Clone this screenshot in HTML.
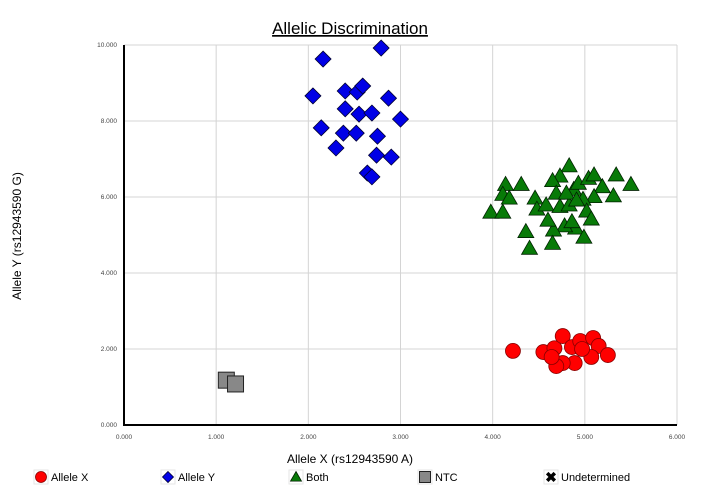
<!DOCTYPE html>
<html><head><meta charset="utf-8"><style>
body{margin:0;background:#fff;font-family:"Liberation Sans",sans-serif}
svg{display:block}
</style></head><body>
<svg width="702" height="501" xmlns="http://www.w3.org/2000/svg">
<text x="350" y="34" font-size="17" text-anchor="middle" text-decoration="underline">Allelic Discrimination</text>
<g id="grid"></g><g id="ticks"></g><g id="marks"></g>
<text x="350" y="463" font-size="12" text-anchor="middle">Allele X (rs12943590 A)</text>
<text transform="translate(21,236) rotate(-90)" font-size="12" text-anchor="middle">Allele Y (rs12943590 G)</text>
<g id="legend"></g>
</svg>
<script>
const xTicks=[0,1,2,3,4,5,6];
const yTicks=[0,2,4,6,8,10];
const alleleX_x=[4.22,4.55,4.67,4.76,4.86,4.95,5.09,5.15,5.25,5.07,4.89,4.76,4.69,4.64,4.97];
const alleleX_y=[1.95,1.92,2.02,2.34,2.05,2.21,2.29,2.08,1.84,1.79,1.63,1.63,1.55,1.79,2.0];
const alleleY_x=[2.05,2.16,2.79,2.40,2.53,2.59,2.87,2.40,2.55,2.69,3.0,2.14,2.38,2.52,2.75,2.30,2.74,2.90,2.64,2.69];
const alleleY_y=[8.66,9.63,9.92,8.79,8.76,8.92,8.6,8.32,8.18,8.21,8.05,7.82,7.68,7.68,7.6,7.29,7.1,7.05,6.63,6.53];
const both_x=[4.83,4.73,4.65,4.31,4.14,4.11,4.18,3.98,4.11,4.46,4.48,4.58,4.69,4.73,4.83,4.88,4.93,5.04,5.10,5.19,5.34,5.50,5.31,5.10,4.98,5.02,5.07,4.90,4.78,4.66,4.60,4.36,4.40,4.65,4.99,4.86,4.80,4.91];
const both_y=[6.82,6.55,6.43,6.33,6.33,6.07,5.97,5.60,5.60,5.97,5.68,5.79,6.10,5.75,5.79,6.20,6.36,6.49,6.58,6.27,6.58,6.33,6.03,6.01,5.94,5.63,5.42,5.18,5.24,5.13,5.39,5.09,4.65,4.78,4.94,5.35,6.10,5.92];
const ntc_x=[1.11,1.21];
const ntc_y=[1.18,1.08];
const X0=124,X1=677,Y0=425,Y1=45;
const sx=v=>X0+(X1-X0)*v/6, sy=v=>Y0-(Y0-Y1)*v/10;
const NS="http://www.w3.org/2000/svg";
function mk(tag,attrs,parent){const e=document.createElementNS(NS,tag);for(const k in attrs)e.setAttribute(k,attrs[k]);parent.appendChild(e);return e;}
const grid=document.getElementById('grid'),ticks=document.getElementById('ticks'),marks=document.getElementById('marks'),legend=document.getElementById('legend');
xTicks.forEach(t=>{if(t>0){const l=mk('line',{x1:sx(t),x2:sx(t),y1:Y1,y2:Y0,stroke:'#d4d4d4'},grid);

}
const tx=mk('text',{x:sx(t),y:439,'font-size':6.5,'text-anchor':'middle',fill:'#444'},ticks);tx.textContent=t.toFixed(3);

});
yTicks.forEach(t=>{if(t>0){const l=mk('line',{x1:X0,x2:X1,y1:sy(t),y2:sy(t),stroke:'#d4d4d4'},grid);

}
const tx=mk('text',{x:117,y:sy(t)+2,'font-size':6.5,'text-anchor':'end',fill:'#444'},ticks);tx.textContent=t.toFixed(3);

});
const ax=mk('path',{d:`M${X0} ${Y1}V${Y0}H${X1}`,stroke:'#000','stroke-width':2,fill:'none'},grid);


function circle(x,y,p,r){return mk('circle',{cx:x,cy:y,r:r||7.5,fill:'#f00',stroke:'#800','stroke-width':0.8},p);}
function diamond(x,y,p,s){s=s||8;return mk('path',{d:`M${x} ${y-s}L${x+s} ${y}L${x} ${y+s}L${x-s} ${y}Z`,fill:'#0000e6',stroke:'#003','stroke-width':0.8},p);}
function tri(x,y,p,s){s=s||8;return mk('path',{d:`M${x} ${y-s}L${x+s} ${y+s*0.75}L${x-s} ${y+s*0.75}Z`,fill:'#087a08',stroke:'#020','stroke-width':0.8},p);}
function sq(x,y,p,s){s=s||8;return mk('rect',{x:x-s,y:y-s,width:2*s,height:2*s,fill:'#888',stroke:'#222','stroke-width':1},p);}
ntc_x.forEach((v,i)=>{const e=sq(sx(v),sy(ntc_y[i]),marks);

});
alleleY_x.forEach((v,i)=>{const e=diamond(sx(v),sy(alleleY_y[i]),marks);

});
both_x.forEach((v,i)=>{const e=tri(sx(v),sy(both_y[i]),marks);

});
alleleX_x.forEach((v,i)=>{const e=circle(sx(v),sy(alleleX_y[i]),marks);

});
const leg=[['Allele X',41,circle],['Allele Y',168,diamond],['Both',296,tri],['NTC',425,sq],['Undetermined',551,null]];
leg.forEach(([lab,x,f])=>{const g=mk('g',{},legend);


mk('rect',{x:x-7,y:470,width:14,height:14,fill:'none',stroke:'#e6e6e6'},g);
if(f)f(x,477,g,5.5);else{const t=mk('text',{x:x,y:482,'font-size':14,'font-weight':'bold','text-anchor':'middle'},g);t.textContent='✖';}
const t=mk('text',{x:x+10,y:481,'font-size':11},g);t.textContent=lab;});
</script>
</body></html>
